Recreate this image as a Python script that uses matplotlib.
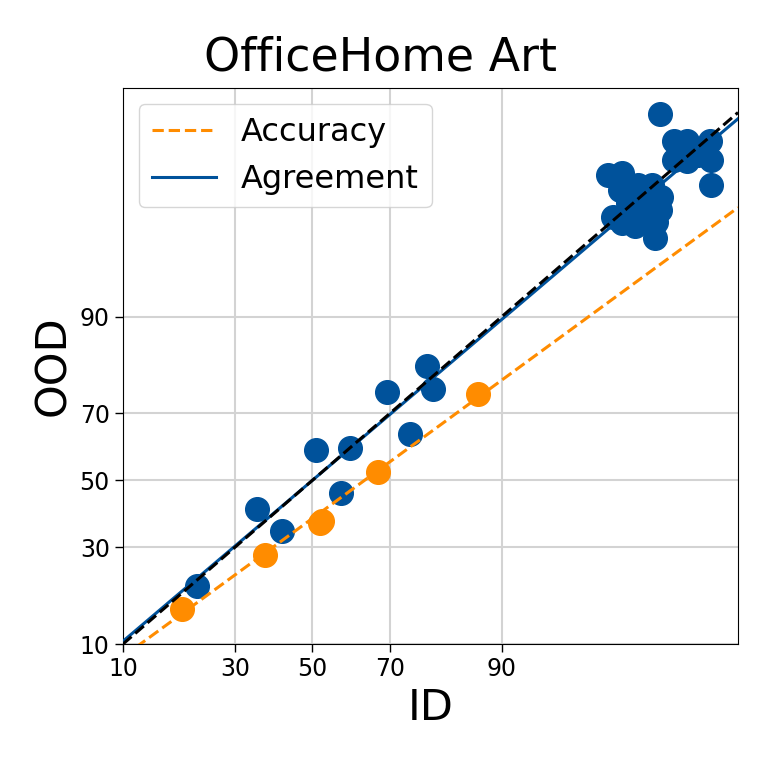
from statistics import NormalDist
import matplotlib
matplotlib.use("Agg")
import matplotlib.pyplot as plt
import numpy as np

# values in percent
agree_id = [21.7, 35.3, 41.8, 51.0, 59.9, 57.7, 69.3, 74.6, 78.0, 79.2,
            97.73, 98.18, 98.12, 98.62, 98.91, 99.08, 99.06, 99.00, 98.97,
            97.89, 98.18, 98.54, 98.77, 98.35, 98.70,
            99.07, 99.28, 99.43, 99.64, 99.28, 99.44, 99.65, 99.65, 99.54]
agree_ood = [20.4, 41.0, 34.6, 59.4, 60.1, 45.9, 75.5, 64.0, 81.4, 76.3,
             99.16, 99.19, 98.84, 98.96, 98.96, 98.68, 98.28, 97.85, 97.12,
             98.04, 97.80, 97.65, 97.92, 98.50, 98.38,
             99.79, 99.60, 99.60, 99.60, 99.39, 99.37, 99.39, 98.96, 99.45]
acc_id = [18.9, 37.3, 52.5, 52.0, 67.0, 86.8]
acc_ood = [15.7, 27.9, 37.5, 36.9, 52.6, 74.9]

# probit-space linear fits (slope, bias), as seen in the picture
agree_fit = (0.983, 0.0)
acc_fit = (0.845, -0.298)

tick_vals = [10, 30, 50, 70, 90]
x_lim_pct = (10, 99.8)
y_lim_pct = (10, 99.893)

BLUE = "#00529b"
ORANGE = "#ff8c00"

nd = NormalDist()


def probit(p):
    return np.array([nd.inv_cdf(v / 100.0) for v in np.atleast_1d(p)])


def main():
    fig = plt.figure(figsize=(7.61, 7.61), dpi=100)
    ax = fig.add_axes([0.1616, 0.1537, 0.8082, 0.7307])

    ax.scatter(probit(agree_id), probit(agree_ood), s=290, color=BLUE, zorder=2)
    ax.scatter(probit(acc_id), probit(acc_ood), s=290, color=ORANGE, zorder=2)

    xl = probit(x_lim_pct)
    yl = probit(y_lim_pct)
    xs = np.linspace(xl[0], xl[1], 100)
    ax.plot(xs, acc_fit[0] * xs + acc_fit[1], "--", color=ORANGE, lw=2.2,
            label="Accuracy", zorder=3)
    ax.plot(xs, agree_fit[0] * xs + agree_fit[1], "-", color=BLUE, lw=2.2,
            label="Agreement", zorder=3)
    ax.plot(xs, xs, "--", color="black", lw=2.2, zorder=4)

    ticks = probit(tick_vals)
    ax.set_xticks(ticks)
    ax.set_xticklabels([str(t) for t in tick_vals])
    ax.set_yticks(ticks)
    ax.set_yticklabels([str(t) for t in tick_vals])
    ax.tick_params(labelsize=17, length=6, width=1)
    ax.set_xlim(xl[0], xl[1])
    ax.set_ylim(yl[0], yl[1])

    ax.grid(True, color="#d3d3d3", lw=1.5)
    ax.set_axisbelow(True)

    ax.set_xlabel("ID", fontsize=31)
    ax.set_ylabel("OOD", fontsize=31)
    fig.suptitle("OfficeHome Art", fontsize=33, y=1 - 58 / 761, va="center")
    ax.legend(loc="upper left", fontsize=23)

    fig.savefig("out.png", dpi=100)
    plt.close(fig)


if __name__ == "__main__":
    main()
